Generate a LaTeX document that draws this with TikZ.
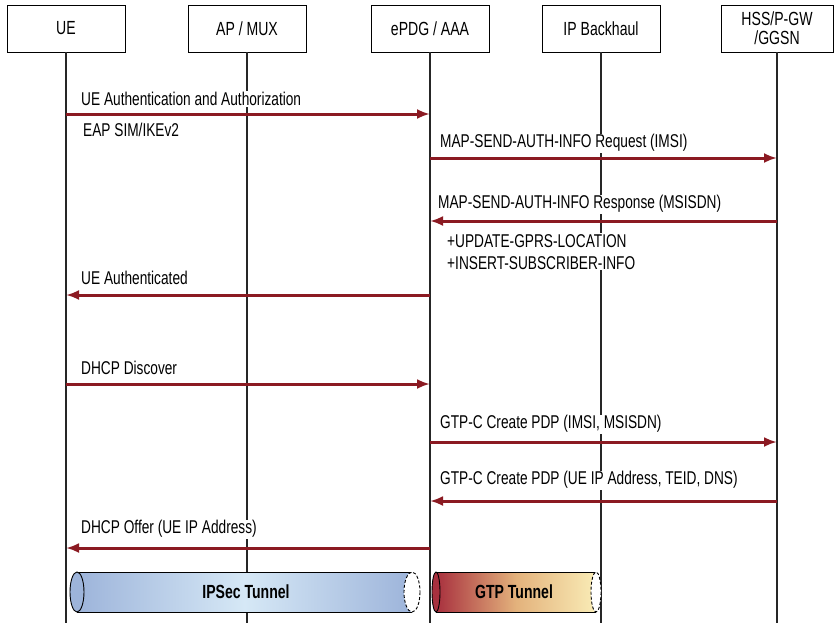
\documentclass[tikz,border=0pt]{standalone}
\usepackage{fontspec}
\setmainfont{Liberation Sans}[FakeStretch=0.74]
\usepackage{tikz}
\usetikzlibrary{arrows.meta,positioning}
\definecolor{msgred}{HTML}{8B1A22}
\definecolor{ipsecblue}{HTML}{9DB4DA}
\definecolor{ipseclight}{HTML}{D6E8F6}
\definecolor{gtpred}{HTML}{A8303E}
\definecolor{gtptan}{HTML}{E3B27C}
\definecolor{gtpyellow}{HTML}{F9ECB6}

\tikzset{
  entity/.style={draw, line width=0.9pt, minimum width=118pt, minimum height=47pt,
    align=center, font=\fontsize{19}{19}\selectfont},
  lifeline/.style={line width=1.2pt, black!85},
  msg/.style={line width=3pt, msgred, -{Latex[length=13pt,width=10pt]}},
  msglabel/.style={anchor=south west, inner sep=1pt, fill=white, font=\fontsize{18.5}{22}\selectfont, align=left},
  tunneltext/.style={font=\bfseries\fontsize{19}{19}\selectfont}
}

\begin{document}
\begin{tikzpicture}[x=1pt, y=-1pt]
\useasboundingbox (0,0) rectangle (834,623);

% participants
\node[entity] (ue)   at (66,28.5)  {UE};
\node[entity] (ap)   at (247,28.5) {AP / MUX};
\node[entity] (epdg) at (430,28.5) {ePDG / AAA};
\node[entity] (ipb)  at (601,28.5) {IP Backhaul};
\node[entity, minimum width=112pt] (hss) at (777,28.5) {HSS/P-GW\\/GGSN};

% lifelines
\foreach \n in {ue,ap,epdg,ipb,hss}
  \draw[lifeline] (\n.south) -- (\n.south |- 0,623);

% messages
\draw[msg] (ue |- 0,114) -- (epdg |- 0,114);
\node[msglabel] (l1) at ([xshift=14pt,yshift=7pt]ue |- 0,114) {UE Authentication and Authorization};
\node[msglabel, anchor=north west] (l1b) at ([xshift=16pt,yshift=-8pt]ue |- 0,114) {EAP SIM/IKEv2};

\draw[msg] (epdg |- 0,158) -- (hss |- 0,158);
\node[msglabel] (l2) at ([xshift=9pt,yshift=5pt]epdg |- 0,158) {MAP-SEND-AUTH-INFO Request (IMSI)};

\draw[msg] (hss |- 0,221) -- (epdg |- 0,221);
\node[msglabel] (l3) at ([xshift=7pt,yshift=7pt]epdg |- 0,221) {MAP-SEND-AUTH-INFO Response (MSISDN)};
\node[msglabel, anchor=north west] (l3b) at ([xshift=16pt,yshift=-12pt]epdg |- 0,221) {+UPDATE-GPRS-LOCATION\\+INSERT-SUBSCRIBER-INFO};

\draw[msg] (epdg |- 0,295) -- (ue |- 0,295);
\node[msglabel] (l4) at ([xshift=14pt,yshift=9pt]ue |- 0,295) {UE Authenticated};

\draw[msg] (ue |- 0,384) -- (epdg |- 0,384);
\node[msglabel] (l5) at ([xshift=14pt,yshift=8pt]ue |- 0,384) {DHCP Discover};

\draw[msg] (epdg |- 0,442) -- (hss |- 0,442);
\node[msglabel] (l6) at ([xshift=9pt,yshift=8pt]epdg |- 0,442) {GTP-C Create PDP (IMSI, MSISDN)};

\draw[msg] (hss |- 0,501) -- (epdg |- 0,501);
\node[msglabel] (l7) at ([xshift=9pt,yshift=11pt]epdg |- 0,501) {GTP-C Create PDP (UE IP Address, TEID, DNS)};

\draw[msg] (epdg |- 0,548) -- (ue |- 0,548);
\node[msglabel] (l8) at ([xshift=14pt,yshift=9pt]ue |- 0,548) {DHCP Offer (UE IP Address)};

% IPSec tunnel
\shade[left color=ipsecblue, right color=ipsecblue, middle color=ipseclight] (77,572) rectangle (412,612);
\draw[line width=0.9pt] (77,572) -- (412,572) (77,612) -- (412,612);
\filldraw[fill=ipsecblue, line width=0.9pt] (77,592) ellipse (7 and 20);
\filldraw[fill=white, line width=0.9pt, densely dashed] (412,592) ellipse (8 and 20);
\node[tunneltext] (ipsec) at (246,592) {IPSec Tunnel};

% GTP tunnel
\shade[left color=gtpred, right color=gtpyellow, middle color=gtptan] (436,572) rectangle (596,612);
\draw[line width=0.9pt] (436,572) -- (596,572) (436,612) -- (596,612);
\filldraw[fill=gtpred, line width=0.9pt] (436,592) ellipse (4 and 20);
\filldraw[fill=white, line width=0.9pt, densely dashed] (596,592) ellipse (5 and 20);
\node[tunneltext] (gtp) at (514,592) {GTP Tunnel};
\end{tikzpicture}
\end{document}
